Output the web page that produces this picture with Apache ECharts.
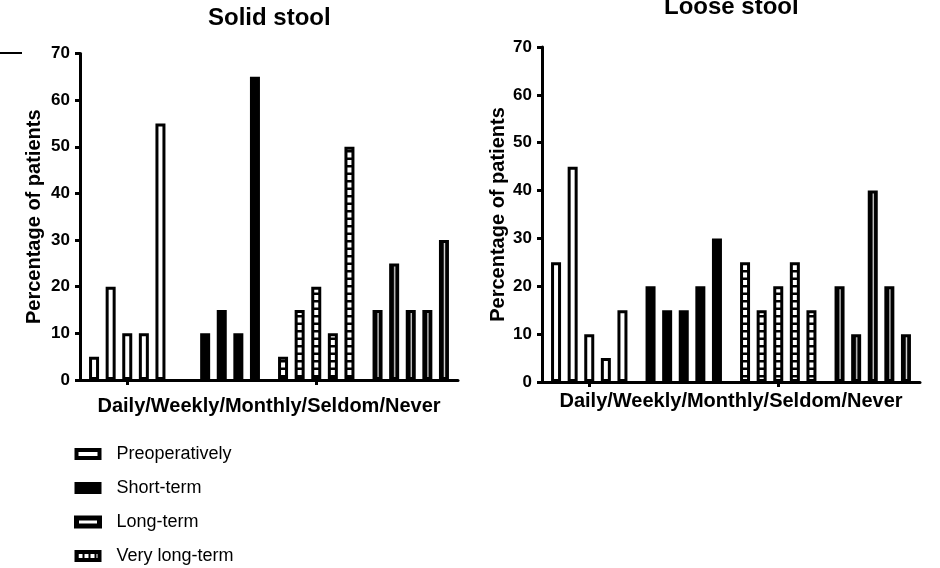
<!DOCTYPE html>
<html>
<head>
<meta charset="utf-8">
<title>Solid and loose stool frequency</title>
<script src="https://cdn.jsdelivr.net/npm/echarts@6/dist/echarts.min.js"></script>
<style>
  html, body { margin: 0; padding: 0; background: #fff; }
  #chart { width: 940px; height: 568px; }
</style>
</head>
<body>
<div id="chart"></div>
<script>
// Follow-up time points (one bar group each) and stool frequencies (bars within a group)
const groups = ['Preoperatively', 'Short-term', 'Long-term', 'Very long-term'];
const frequencies = ['Daily', 'Weekly', 'Monthly', 'Seldom', 'Never'];
const yTicks = [0, 10, 20, 30, 40, 50, 60, 70];

// Percentage of patients, Daily/Weekly/Monthly/Seldom/Never, per group
const solidGroup1 = [5, 20, 10, 10, 55];
const solidGroup2 = [0, 10, 15, 10, 65];
const solidGroup3 = [5, 15, 20, 10, 50];
const solidGroup4 = [15, 25, 15, 15, 30];

const looseGroup1 = [25, 45, 10, 5, 15];
const looseGroup2 = [20, 15, 15, 20, 30];
const looseGroup3 = [25, 15, 20, 25, 15];
const looseGroup4 = [20, 10, 40, 20, 10];

const solidValues = [solidGroup1, solidGroup2, solidGroup3, solidGroup4];
const looseValues = [looseGroup1, looseGroup2, looseGroup3, looseGroup4];

const FONT = '"Liberation Sans", Arial, Helvetica, sans-serif';

// Fill patterns
function makeHatch() {
  const c = document.createElement('canvas');
  c.width = 4; c.height = 15;
  const ctx = c.getContext('2d');
  ctx.fillStyle = '#fff'; ctx.fillRect(0, 0, 4, 15);
  ctx.fillStyle = '#000';
  ctx.fillRect(0, 0, 4, 2.5);
  ctx.fillRect(0, 7.5, 4, 2.5);
  return c;
}
function makeSlits() {
  const c = document.createElement('canvas');
  c.width = 6; c.height = 4;
  const ctx = c.getContext('2d');
  ctx.fillStyle = '#000'; ctx.fillRect(0, 0, 6, 4);
  ctx.fillStyle = '#fff'; ctx.fillRect(2, 0, 4, 4);
  return c;
}
const hatchFill = { image: makeHatch(), repeat: 'repeat' };
const slitFill = { image: makeSlits(), repeat: 'repeat' };
const thinLineFill = {
  type: 'linear', x: 0, y: 0, x2: 1, y2: 0,
  colorStops: [
    { offset: 0, color: '#000' }, { offset: 0.42, color: '#000' },
    { offset: 0.56, color: '#d8d8d8' }, { offset: 0.68, color: '#000' },
    { offset: 1, color: '#000' }
  ]
};

// Bar look of each group, in axis order
const groupBarStyle = [
  { color: '#fff', borderColor: '#000', borderWidth: 3 },
  { color: '#000', borderColor: '#000', borderWidth: 3 },
  { color: hatchFill, borderColor: '#000', borderWidth: 3 },
  { color: thinLineFill, borderColor: '#000', borderWidth: 3 }
];

// Legend swatches
const legendStyle = [
  { color: '#fff', borderColor: '#000', borderWidth: 4 },
  { color: '#000', borderColor: '#000', borderWidth: 4 },
  { color: '#fff', borderColor: '#000', borderWidth: 5 },
  { color: slitFill, borderColor: '#000', borderWidth: 4 }
];

function barSeries(values, axisIndex) {
  return frequencies.map((f, fi) => ({
    name: f,
    type: 'bar',
    xAxisIndex: axisIndex,
    yAxisIndex: axisIndex,
    barWidth: 10,
    barGap: '66%',
    silent: true,
    data: groups.map((g, gi) => {
      const v = values[gi][fi];
      const style = v === 0 ? Object.assign({}, groupBarStyle[gi], { borderWidth: 0 }) : groupBarStyle[gi];
      return { value: v, itemStyle: style };
    })
  }));
}

function xAxisFor(gridIndex, gap) {
  return {
    type: 'category',
    gridIndex,
    data: groups,
    boundaryGap: true,
    name: 'Daily/Weekly/Monthly/Seldom/Never',
    nameLocation: 'middle',
    nameGap: gap,
    nameTextStyle: { fontFamily: FONT, fontSize: 20, fontWeight: 'bold', color: '#000' },
    axisLine: { lineStyle: { color: '#000', width: 3 } },
    axisTick: { show: true, alignWithLabel: true, length: 5, lineStyle: { color: '#000', width: 3 } },
    axisLabel: { show: false },
    splitLine: { show: false }
  };
}

function yAxisFor(gridIndex, gap) {
  return {
    type: 'value',
    gridIndex,
    min: yTicks[0],
    max: yTicks[yTicks.length - 1],
    interval: yTicks[1] - yTicks[0],
    name: 'Percentage of patients',
    nameLocation: 'middle',
    nameGap: gap,
    nameTextStyle: { fontFamily: FONT, fontSize: 20, fontWeight: 'bold', color: '#000' },
    axisLine: { show: true, lineStyle: { color: '#000', width: 3 } },
    axisTick: { show: true, length: 5, lineStyle: { color: '#000', width: 3 } },
    axisLabel: { margin: 10, fontFamily: FONT, fontSize: 17, fontWeight: 'bold', color: '#000' },
    splitLine: { show: false }
  };
}

const legendSeries = groups.map(g => ({
  name: g, type: 'bar', xAxisIndex: 2, yAxisIndex: 2, data: []
}));

const chart = echarts.init(document.getElementById('chart'), null, { renderer: 'canvas' });
chart.setOption({
  animation: false,
  backgroundColor: '#fff',
  title: [
    { text: 'Solid stool', left: 208, top: 6, padding: 0,
      textStyle: { fontFamily: FONT, fontSize: 24, fontWeight: 'bold', color: '#000' } },
    { text: 'Loose stool', left: 664, top: -5, padding: 0,
      textStyle: { fontFamily: FONT, fontSize: 24, fontWeight: 'bold', color: '#000' } }
  ],
  grid: [
    { left: 80, top: 53.5, width: 378, height: 326.5 },
    { left: 542, top: 47, width: 378, height: 335 },
    { left: 0, top: 0, width: 1, height: 1, show: false }
  ],
  xAxis: [
    xAxisFor(0, 16.5),
    xAxisFor(1, 9.5),
    { type: 'category', gridIndex: 2, show: false, data: [] }
  ],
  yAxis: [
    yAxisFor(0, 36),
    yAxisFor(1, 34),
    { type: 'value', gridIndex: 2, show: false }
  ],
  legend: {
    orient: 'vertical',
    left: 74,
    top: 445,
    padding: 0,
    itemWidth: 23,
    itemHeight: 8,
    itemGap: 16,
    selectedMode: false,
    icon: 'rect',
    textStyle: { fontFamily: FONT, fontSize: 18, color: '#000', padding: [0, 0, 0, 12] },
    data: groups.map((g, i) => ({ name: g, icon: 'rect', itemStyle: legendStyle[i] }))
  },
  graphic: [
    { type: 'line', shape: { x1: 0, y1: 53, x2: 22, y2: 53 }, style: { stroke: '#000', lineWidth: 2 } }
  ],
  series: [
    ...barSeries(solidValues, 0),
    ...barSeries(looseValues, 1),
    ...legendSeries
  ]
});
</script>
</body>
</html>
